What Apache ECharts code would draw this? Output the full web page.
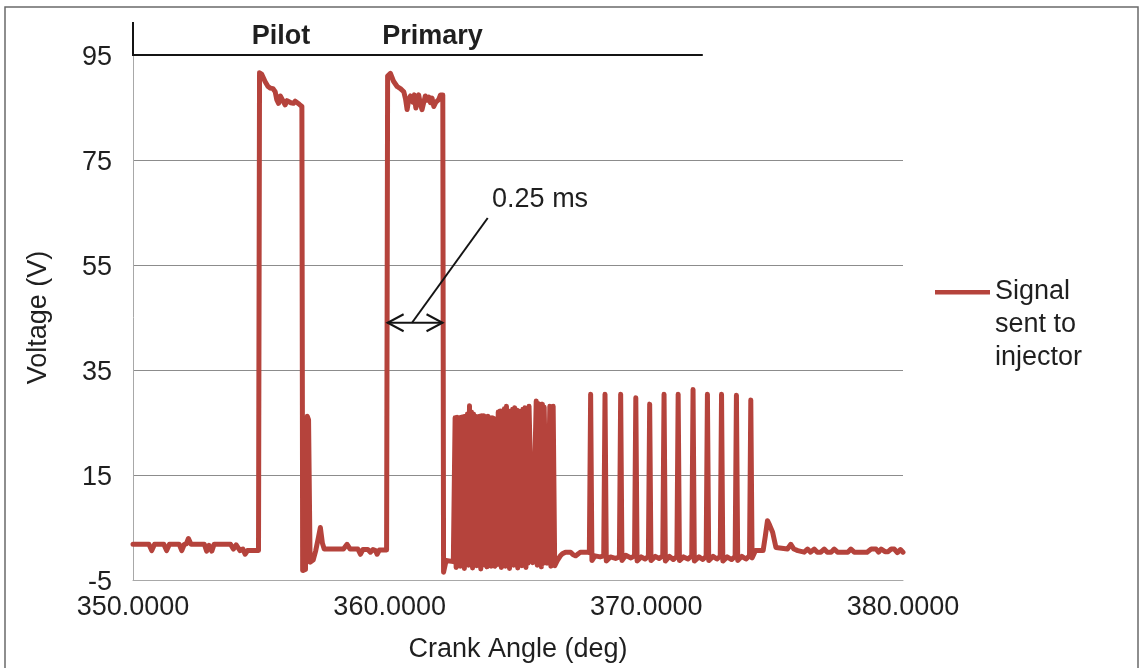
<!DOCTYPE html>
<html>
<head>
<meta charset="utf-8">
<title>Injector drive signal</title>
<script src="https://cdn.jsdelivr.net/npm/echarts@6/dist/echarts.min.js"></script>
<style>
  html, body { margin: 0; padding: 0; background: #ffffff; }
  #chart { width: 1143px; height: 668px; }
</style>
</head>
<body>
<div id="chart"></div>
<script>
// Axis ticks
const xTicks = [350, 360, 370, 380];
const yTicks = [-5, 15, 35, 55, 75, 95];
const seriesName = 'Signal\nsent to\ninjector';

// Injector drive signal, [crank angle (deg), voltage (V)]
const preInjection = [
  [350.00, 1.8], [350.62, 1.8], [350.73, 0.6], [350.84, 1.8], [351.20, 1.8], [351.31, 0.6],
  [351.42, 1.8], [351.80, 1.8], [351.90, 0.6], [352.00, 1.8], [352.08, 1.9], [352.16, 2.9],
  [352.26, 1.8], [352.78, 1.8], [352.87, 0.5], [352.96, 1.6], [353.07, 0.5], [353.16, 1.8],
  [353.80, 1.8], [353.91, 0.9], [354.02, 1.7], [354.17, 0.6], [354.28, 0.9], [354.37, -0.1],
  [354.46, 0.6], [354.89, 0.6]
];
const pilotPulse = [
  [354.93, 91.6], [355.02, 91.3], [355.15, 89.9], [355.26, 89.0], [355.35, 88.7], [355.45, 88.6],
  [355.54, 88.0], [355.60, 86.5], [355.67, 85.8], [355.74, 87.2], [355.80, 87.4], [355.87, 86.0],
  [355.93, 85.5], [356.00, 86.3], [356.06, 86.4], [356.15, 85.9], [356.25, 85.8], [356.32, 86.2],
  [356.39, 86.1], [356.48, 85.6], [356.58, 85.2]
];
const dwell = [
  [356.61, -3.2], [356.72, -3.0], [356.79, 26.2], [356.84, 25.5], [356.90, -1.6], [357.02, -1.2],
  [357.12, 0.6], [357.22, 3.0], [357.30, 5.0], [357.38, 2.0], [357.45, 0.9], [358.20, 0.9],
  [358.34, 1.8], [358.46, 0.9], [358.76, 0.9], [358.86, -0.1], [358.96, 0.8], [359.15, 0.8],
  [359.25, 0.3], [359.35, 0.8], [359.45, 0.6], [359.51, -0.1], [359.60, 0.7], [359.88, 0.7]
];
const primaryPulse = [
  [359.92, 91.0], [360.03, 91.5], [360.15, 90.0], [360.29, 89.0], [360.42, 88.6], [360.55, 88.0],
  [360.62, 86.6], [360.68, 84.6], [360.74, 86.4], [360.81, 87.2], [360.90, 86.0], [360.96, 87.4],
  [361.02, 84.9], [361.08, 86.5], [361.13, 87.4], [361.20, 85.6], [361.26, 84.6], [361.33, 86.0],
  [361.39, 87.2], [361.46, 86.4], [361.52, 87.0], [361.59, 85.9], [361.65, 86.8], [361.72, 85.2],
  [361.80, 86.0], [361.91, 86.5], [361.98, 87.4], [362.07, 87.4]
];
const firstBurst = [
  [362.10, -3.5], [362.20, -1.3], [362.48, -1.5],
  [362.55, 25.9], [362.59, -2.6], [362.63, 26.0], [362.67, -1.8], [362.71, 25.8], [362.75, -2.4],
  [362.79, 26.0], [362.83, -1.6], [362.87, 26.1], [362.91, -2.8], [362.95, 26.2], [362.99, -1.7],
  [363.03, 26.6], [363.07, -2.2], [363.11, 28.2], [363.15, -1.5], [363.19, 27.0], [363.23, -2.7],
  [363.27, 26.6], [363.31, -1.8], [363.35, 26.2], [363.39, -2.3], [363.43, 26.0], [363.47, -1.6],
  [363.51, 26.2], [363.55, -2.9], [363.59, 26.3], [363.63, -1.8], [363.67, 26.3], [363.71, -2.2],
  [363.75, 26.0], [363.79, -2.5], [363.83, 26.2], [363.87, -1.7], [363.91, 25.9], [363.95, -2.4],
  [363.99, 25.9], [364.03, -1.9], [364.05, 25.8], [364.09, -2.4], [364.18, -1.9]
];
const secondBurst = [
  [364.23, 27.0], [364.27, -2.0], [364.31, 27.2], [364.35, -2.6], [364.39, 27.2], [364.43, -1.7],
  [364.47, 27.6], [364.51, -2.4], [364.55, 28.1], [364.59, -1.6], [364.63, 27.0], [364.67, -2.8],
  [364.71, 27.2], [364.75, -1.8], [364.79, 27.5], [364.83, -2.2], [364.87, 27.8], [364.91, -1.6],
  [364.95, 27.4], [364.99, -2.7], [365.03, 27.2], [365.07, -1.8], [365.11, 27.0], [365.15, -2.3],
  [365.19, 27.5], [365.23, -1.7], [365.27, 27.8], [365.31, -2.6], [365.35, 27.6], [365.39, -1.8],
  [365.43, 28.1], [365.57, -1.7], [365.71, 29.1], [365.75, -2.2], [365.79, 28.6], [365.83, -1.6],
  [365.87, 28.4], [365.91, -2.5], [365.95, 28.5], [365.99, -1.8], [366.02, 27.9], [366.13, -1.8],
  [366.24, 28.1], [366.28, -2.4], [366.32, 27.8], [366.35, -1.9], [366.37, 28.1], [366.43, -2.3]
];
const quietGap = [
  [366.53, -1.3], [366.65, -0.4], [366.73, 0.0], [366.85, 0.3], [367.05, 0.3], [367.15, -0.2],
  [367.25, -0.4], [367.35, 0.0], [367.44, 0.3], [367.70, 0.3]
];
const holdSpikes = [
  [367.78, 0.2], [367.83, 30.4], [367.88, -1.3], [368.00, -0.4], [368.20, -0.6],
  [368.34, -0.4], [368.39, 30.4], [368.44, -1.4], [368.60, -0.6], [368.80, -0.9],
  [368.95, -0.6], [369.00, 30.4], [369.05, -1.3], [369.20, -0.3], [369.40, -0.8],
  [369.54, -0.4], [369.59, 29.7], [369.64, -1.4], [369.80, -0.6], [369.95, -1.0],
  [370.08, -0.5], [370.13, 28.5], [370.18, -1.3], [370.35, -0.5], [370.50, -0.9],
  [370.64, -0.4], [370.69, 30.4], [370.74, -1.4], [370.90, -0.5], [371.05, -1.1],
  [371.19, -0.5], [371.24, 30.4], [371.29, -1.3], [371.45, -0.6], [371.62, -1.0],
  [371.77, -0.4], [371.82, 31.3], [371.87, -1.4], [372.05, -0.6], [372.20, -1.1],
  [372.33, -0.5], [372.38, 30.4], [372.43, -1.3], [372.60, -0.5], [372.75, -1.0],
  [372.88, -0.5], [372.93, 30.4], [372.98, -1.4], [373.15, -0.6], [373.32, -1.1],
  [373.46, -0.5], [373.51, 30.2], [373.56, -1.3], [373.72, -0.5], [373.88, -1.0],
  [374.02, -0.4], [374.07, 29.3], [374.12, -0.8], [374.25, 0.6], [374.55, 0.6]
];
const tail = [
  [374.64, 3.5], [374.72, 6.3], [374.80, 5.5], [374.92, 4.1], [375.05, 1.2], [375.12, 0.9],
  [375.50, 0.9], [375.63, 1.8], [375.75, 0.9], [375.90, 0.6], [376.15, 0.3], [376.28, 0.9],
  [376.40, 0.3], [376.54, 0.9], [376.66, 0.3], [376.80, 0.3], [376.93, 0.9], [377.05, 0.3],
  [377.20, 0.3], [377.32, 0.9], [377.45, 0.3], [377.85, 0.3], [377.97, 0.9], [378.10, 0.3],
  [378.60, 0.3], [378.76, 0.9], [378.95, 0.9], [379.05, 0.3], [379.15, 0.9], [379.30, 0.4],
  [379.42, 0.4], [379.54, 0.9], [379.66, 0.9], [379.78, 0.2], [379.90, 0.8], [380.00, 0.3]
];

const signal = [].concat(preInjection, pilotPulse, dwell, primaryPulse, firstBurst,
  secondBurst, quietGap, holdSpikes, tail);

const FONT = '"Liberation Sans", Arial, Helvetica, sans-serif';
const INK = '#1f1f1f';
const TRACE = '#b5433c';

const chart = echarts.init(document.getElementById('chart'), null, { renderer: 'canvas' });

chart.setOption({
  animation: false,
  backgroundColor: '#ffffff',
  textStyle: { fontFamily: FONT },
  grid: { left: 133, right: 240, top: 55, bottom: 87 },
  xAxis: {
    type: 'value',
    min: 350, max: 380, interval: 10,
    name: 'Crank Angle (deg)',
    nameLocation: 'middle',
    nameGap: 56,
    nameTextStyle: { fontSize: 27, color: INK, fontFamily: FONT },
    axisLine: { show: true, onZero: false, lineStyle: { color: '#a8a8a8', width: 1 } },
    axisTick: { show: false },
    splitLine: { show: false },
    axisLabel: {
      customValues: xTicks,
      formatter: v => Number(v).toFixed(4),
      fontSize: 27, color: INK, margin: 14, fontFamily: FONT
    }
  },
  yAxis: {
    type: 'value',
    min: -5, max: 95, interval: 20,
    name: 'Voltage (V)',
    nameLocation: 'middle',
    nameGap: 81,
    nameTextStyle: { fontSize: 27, color: INK, fontFamily: FONT },
    axisLine: { show: true, onZero: false, lineStyle: { color: '#a8a8a8', width: 1 } },
    axisTick: { show: false, customValues: yTicks },
    axisLabel: {
      customValues: yTicks,
      margin: 21,
      formatter: v => '{v|' + v + '}',
      rich: { v: { fontSize: 27, color: INK, fontFamily: FONT, padding: [6, 0, 0, 0] } }
    },
    splitLine: { show: true, showMaxLine: false, lineStyle: { color: '#8c8c8c', width: 1 } }
  },
  legend: {
    data: [seriesName],
    left: 935,
    top: 275.5,
    padding: 0,
    // swatch drawn at the top of a tall icon box so it sits beside the first text line
    icon: 'path://M0,0 H55 V4.5 H0 Z M0,70 H0.01 V70.01 H0 Z',
    itemWidth: 55,
    itemHeight: 70,
    selectedMode: false,
    textStyle: { fontSize: 27, color: INK, lineHeight: 33, fontFamily: FONT }
  },
  series: [{
    type: 'line',
    name: seriesName,
    data: signal,
    symbol: 'none',
    showSymbol: false,
    clip: true,
    lineStyle: { color: TRACE, width: 5, join: 'round', cap: 'round' },
    itemStyle: { color: TRACE }
  }]
});

// Annotations placed through the chart's own coordinate system
const px = p => chart.convertToPixel({ gridIndex: 0 }, p);

const bracketTop = px([350, 101.3]);
const bracketCorner = px([350, 95]);
const bracketEnd = px([372.2, 95]);
const pilotAt = px([355.77, 98.6]);
const primaryAt = px([361.67, 98.6]);
const spanLeft = px([359.92, 44]);
const spanRight = px([362.06, 44]);
const leaderFrom = px([360.87, 44]);
const leaderTo = px([363.82, 63.95]);
const noteAt = px([363.99, 67.4]);

const head = 16, spread = 8.5;

chart.setOption({
  graphic: [
    {
      type: 'rect', silent: true, z: 0,
      shape: { x: 5, y: 7, width: 1133, height: 700 },
      style: { fill: 'none', stroke: '#6a6a6a', lineWidth: 1.5 }
    },
    {
      type: 'polyline', silent: true, z: 10,
      shape: { points: [bracketTop, bracketCorner, bracketEnd] },
      style: { stroke: '#141414', lineWidth: 2, fill: 'none' }
    },
    {
      type: 'text', silent: true, z: 10,
      x: pilotAt[0], y: pilotAt[1],
      style: { text: 'Pilot', font: 'bold 27px ' + FONT, fill: INK, align: 'center', verticalAlign: 'middle' }
    },
    {
      type: 'text', silent: true, z: 10,
      x: primaryAt[0], y: primaryAt[1],
      style: { text: 'Primary', font: 'bold 27px ' + FONT, fill: INK, align: 'center', verticalAlign: 'middle' }
    },
    {
      type: 'line', silent: true, z: 10,
      shape: { x1: spanLeft[0], y1: spanLeft[1], x2: spanRight[0], y2: spanRight[1] },
      style: { stroke: '#141414', lineWidth: 2 }
    },
    {
      type: 'polyline', silent: true, z: 10,
      shape: { points: [[spanLeft[0] + head, spanLeft[1] - spread], spanLeft, [spanLeft[0] + head, spanLeft[1] + spread]] },
      style: { stroke: '#141414', lineWidth: 2, fill: 'none' }
    },
    {
      type: 'polyline', silent: true, z: 10,
      shape: { points: [[spanRight[0] - head, spanRight[1] - spread], spanRight, [spanRight[0] - head, spanRight[1] + spread]] },
      style: { stroke: '#141414', lineWidth: 2, fill: 'none' }
    },
    {
      type: 'line', silent: true, z: 10,
      shape: { x1: leaderFrom[0], y1: leaderFrom[1], x2: leaderTo[0], y2: leaderTo[1] },
      style: { stroke: '#141414', lineWidth: 2 }
    },
    {
      type: 'text', silent: true, z: 10,
      x: noteAt[0], y: noteAt[1],
      style: { text: '0.25 ms', font: '27px ' + FONT, fill: INK, align: 'left', verticalAlign: 'middle' }
    }
  ]
});
</script>
</body>
</html>
